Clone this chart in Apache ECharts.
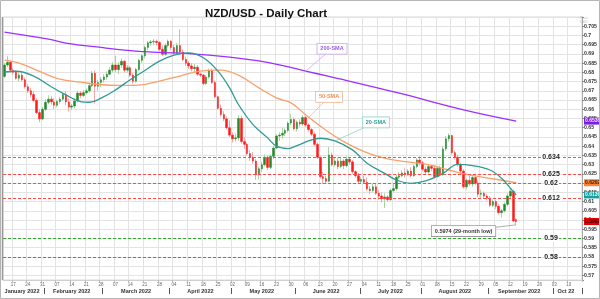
<!DOCTYPE html>
<html><head><meta charset="utf-8">
<script src="https://cdn.jsdelivr.net/npm/echarts@6.0.0/dist/echarts.min.js"></script>
<style>html,body{margin:0;padding:0;background:#fff;overflow:hidden}#chart{width:600px;height:299px}</style>
</head><body><div id="chart"></div>
<script>
// ---------- data ----------
const startDay = '2022-01-12';
const endDay = '2022-10-14';
const monthNames = {'2022-01':'January 2022','2022-02':'February 2022','2022-03':'March 2022','2022-04':'April 2022','2022-05':'May 2022','2022-06':'June 2022','2022-07':'July 2022','2022-08':'August 2022','2022-09':'September 2022','2022-10':'Oct 22'};

const opens = [.6778,.6840,.6855,.6812,.6800,.6768,.6785,.6760,.6722,.6700,
 .6680,.6648,.6582,.6548,.6600,.6638,.6655,.6640,.6622,.6642,
 .6655,.6680,.6640,.6612,.6618,.6645,.6688,.6675,.6690,.6700,
 .6728,.6795,.6725,.6745,.6760,.6775,.6790,.6812,.6840,.6815,
 .6840,.6860,.6812,.6825,.6785,.6752,.6815,.6865,.6890,.6935,
 .6960,.6965,.6968,.6962,.6925,.6898,.6945,.6968,.6935,.6905,
 .6945,.6910,.6870,.6850,.6835,.6820,.6828,.6790,.6785,.6740,
 .6775,.6808,.6745,.6668,.6605,.6572,.6548,.6500,.6460,.6440,
 .6445,.6550,.6425,.6410,.6360,.6340,.6320,.6245,.6278,.6300,
 .6340,.6285,.6345,.6390,.6455,.6460,.6470,.6485,.6525,.6545,
 .6495,.6530,.6520,.6555,.6515,.6490,.6465,.6410,.6340,.6235,
 .6225,.6210,.6352,.6300,.6320,.6290,.6320,.6295,.6330,.6315,
 .6262,.6240,.6210,.6220,.6205,.6168,.6160,.6180,.6145,.6130,
 .6115,.6125,.6110,.6160,.6170,.6232,.6240,.6255,.6245,.6265,
 .6240,.6290,.6325,.6310,.6275,.6260,.6290,.6280,.6235,.6280,
 .6245,.6385,.6440,.6458,.6365,.6340,.6300,.6265,.6180,.6215,
 .6195,.6230,.6200,.6140,.6145,.6130,.6118,.6080,.6100,.6075,
 .6040,.6050,.6085,.6130,.6155,.6002];
const closes = [.6840,.6855,.6812,.6800,.6768,.6785,.6760,.6722,.6700,.6680,
 .6648,.6582,.6548,.6600,.6638,.6655,.6640,.6622,.6642,.6655,
 .6680,.6640,.6612,.6618,.6645,.6688,.6675,.6690,.6700,.6728,
 .6795,.6725,.6745,.6760,.6775,.6790,.6812,.6840,.6815,.6840,
 .6860,.6812,.6825,.6785,.6752,.6815,.6865,.6890,.6935,.6960,
 .6965,.6968,.6962,.6925,.6898,.6945,.6968,.6935,.6905,.6945,
 .6910,.6870,.6850,.6835,.6820,.6828,.6790,.6785,.6740,.6775,
 .6808,.6745,.6668,.6605,.6572,.6548,.6500,.6460,.6440,.6445,
 .6550,.6425,.6410,.6360,.6340,.6320,.6245,.6278,.6300,.6340,
 .6285,.6345,.6390,.6455,.6460,.6470,.6485,.6525,.6545,.6495,
 .6530,.6520,.6555,.6515,.6490,.6465,.6410,.6340,.6235,.6225,
 .6210,.6352,.6300,.6320,.6290,.6320,.6295,.6330,.6315,.6262,
 .6240,.6210,.6220,.6205,.6168,.6160,.6180,.6145,.6130,.6115,
 .6125,.6110,.6160,.6170,.6232,.6240,.6255,.6245,.6265,.6240,
 .6290,.6325,.6310,.6275,.6260,.6290,.6280,.6235,.6280,.6245,
 .6385,.6440,.6458,.6365,.6340,.6300,.6265,.6180,.6215,.6195,
 .6230,.6200,.6140,.6145,.6130,.6118,.6080,.6100,.6075,.6040,
 .6050,.6085,.6130,.6155,.5995,.5992];
const lows = [.6770,.6830,.6800,.6788,.6760,.6752,.6752,.6712,.6688,.6665,
 .6640,.6575,.6530,.6540,.6590,.6628,.6625,.6600,.6612,.6630,
 .6648,.6622,.6588,.6595,.6605,.6638,.6660,.6665,.6680,.6690,
 .6720,.6630,.6700,.6720,.6745,.6760,.6785,.6800,.6800,.6790,
 .6825,.6800,.6798,.6775,.6740,.6745,.6808,.6850,.6875,.6920,
 .6945,.6950,.6945,.6915,.6890,.6890,.6935,.6920,.6895,.6900,
 .6900,.6860,.6835,.6820,.6805,.6800,.6780,.6775,.6730,.6732,
 .6765,.6738,.6660,.6598,.6560,.6535,.6490,.6450,.6420,.6425,
 .6430,.6415,.6385,.6350,.6320,.6305,.6218,.6220,.6260,.6290,
 .6270,.6275,.6330,.6385,.6430,.6440,.6455,.6475,.6515,.6485,
 .6480,.6505,.6510,.6505,.6478,.6455,.6400,.6330,.6225,.6195,
 .6197,.6205,.6290,.6290,.6275,.6280,.6275,.6285,.6300,.6250,
 .6228,.6200,.6195,.6195,.6160,.6140,.6150,.6135,.6110,.6095,
 .6065,.6100,.6105,.6150,.6160,.6220,.6230,.6230,.6240,.6230,
 .6235,.6280,.6295,.6265,.6245,.6250,.6265,.6225,.6230,.6235,
 .6240,.6375,.6425,.6355,.6328,.6290,.6250,.6170,.6165,.6185,
 .6180,.6190,.6125,.6120,.6118,.6105,.6070,.6070,.6060,.6030,
 .6015,.6040,.6075,.6120,.5990,.5974];
const highs = [.6852,.6888,.6862,.6825,.6812,.6800,.6800,.6772,.6738,.6715,
 .6700,.6660,.6600,.6612,.6655,.6675,.6672,.6660,.6652,.6668,
 .6690,.6700,.6660,.6630,.6660,.6700,.6698,.6705,.6712,.6740,
 .6808,.6810,.6760,.6775,.6790,.6805,.6828,.6855,.6890,.6855,
 .6875,.6868,.6840,.6835,.6795,.6825,.6875,.6900,.6945,.6970,
 .6975,.6980,.6978,.6970,.6945,.6958,.6978,.6975,.6950,.6960,
 .7033,.6925,.6885,.6860,.6850,.6845,.6840,.6800,.6792,.6785,
 .6820,.6820,.6755,.6675,.6625,.6590,.6560,.6540,.6475,.6468,
 .6568,.6565,.6448,.6420,.6378,.6368,.6330,.6290,.6315,.6355,
 .6350,.6355,.6400,.6465,.6475,.6500,.6495,.6535,.6575,.6555,
 .6540,.6545,.6568,.6565,.6525,.6500,.6475,.6420,.6345,.6260,
 .6240,.6395,.6365,.6335,.6340,.6335,.6330,.6345,.6340,.6325,
 .6270,.6255,.6232,.6240,.6230,.6185,.6200,.6195,.6160,.6150,
 .6145,.6135,.6170,.6200,.6245,.6260,.6270,.6280,.6275,.6285,
 .6300,.6335,.6345,.6320,.6290,.6300,.6300,.6295,.6290,.6295,
 .6400,.6455,.6470,.6462,.6375,.6355,.6310,.6275,.6225,.6240,
 .6240,.6250,.6215,.6165,.6155,.6140,.6130,.6110,.6110,.6085,
 .6060,.6095,.6145,.6170,.6165,.6010];

// moving averages: [trading-day index, value]
const sma20 = [[0,.6802],[4,.6806],[10,.6780],[16,.6722],[21,.6678],[26,.6642],[29,.6638],[33,.6660],[38,.6705],[43,.6760],[48,.6810],[53,.6861],[58,.6893],[63,.6906],[68,.6879],[73,.6807],[77,.6716],[80,.6626],[85,.6517],[90,.6445],[93,.6400],[97,.6387],[100,.6403],[105,.6434],[108,.6443],[113,.6429],[119,.6380],[124,.6308],[130,.6253],[134,.6217],[139,.6199],[144,.6212],[150,.6253],[155,.6302],[160,.6295],[166,.6271],[170,.6226],[174,.6154],[175,.6136]];
const sma50 = [[0,.6866],[5,.6850],[12,.6805],[19,.6763],[26,.6747],[33,.6733],[39,.6729],[46,.6731],[53,.6753],[60,.6780],[67,.6807],[74,.6812],[80,.6785],[87,.6716],[93,.6662],[98,.6635],[103,.6570],[109,.6497],[116,.6425],[123,.6371],[130,.6335],[137,.6316],[145,.6300],[152,.6271],[159,.6244],[166,.6226],[175,.6202]];
const sma200 = [[0,.7018],[16,.6977],[21,.6959],[33,.6935],[43,.6918],[53,.6908],[63,.6902],[77,.6883],[87,.6862],[94,.6841],[103,.6807],[111,.6778],[135,.6687],[157,.6597],[175,.6536]];

const resistanceLevels = [0.634, 0.625, 0.62, 0.612];
const supportLevels = [0.59, 0.58];

const notes = [
  {text:'200-SMA', at:[112, 0.6928], to:[103, 0.6807], color:'#9b59e8', border:'#c8a6f2'},
  {text:'50-SMA', at:[111, 0.6667], to:[104, 0.6555], color:'#f28a4a', border:'#f7b890'},
  {text:'20-SMA', at:[127, 0.6529], to:[113, 0.6429], color:'#2a9d96', border:'#94d0cb'},
  {text:'0.5974 (29-month low)', at:[157, 0.5940], to:[175, 0.5974], color:'#333333', border:'#9a9a9a'}
];

// ---------- categories (weekdays) ----------
const dates = [];
for (let d = new Date(startDay + 'T00:00:00Z'); d <= new Date(endDay + 'T00:00:00Z'); d.setUTCDate(d.getUTCDate() + 1)) {
  const wd = d.getUTCDay();
  if (wd !== 0 && wd !== 6) dates.push(d.toISOString().slice(0, 10));
}
const isMonday = s => new Date(s + 'T00:00:00Z').getUTCDay() === 1;
const monthStart = new Set(), monthMid = new Set();
{
  let s = 0;
  for (let i = 1; i <= dates.length; i++) {
    if (i === dates.length || dates[i].slice(0, 7) !== dates[i - 1].slice(0, 7)) {
      const n = i - s;
      monthMid.add(s + Math.floor((n - 1) / 2));
      if (s > 0) monthStart.add(s);
      s = i;
    }
  }
}

const wickData = opens.map((o, i) => [o, closes[i], lows[i], highs[i]]);
const bodyData = opens.map((o, i) => [o, closes[i], Math.min(o, closes[i]), Math.max(o, closes[i])]);

const GREEN = '#22882a', RED = '#ff1a1a';
const chart = echarts.init(document.getElementById('chart'), null, {renderer: 'canvas'});
const FONT = 'Liberation Sans, Arial, sans-serif';

const levelLines = resistanceLevels.map(v => ({yAxis: v, lineStyle: {color: '#ff4a4a'}}))
  .concat(supportLevels.map(v => ({yAxis: v, lineStyle: {color: '#2ea82e'}})));

const yLabel = v => {
  const k = Math.round(v * 1000);
  if (Math.abs(v * 1000 - k) > 1e-6 || k % 5 !== 0 || k >= 710) return '';
  return String(k / 1000);
};

chart.setOption({
  animation: false,
  title: {text: 'NZD/USD - Daily Chart', left: 261, top: 3, textAlign: 'center',
    textStyle: {fontFamily: FONT, fontSize: 11.5, fontWeight: 'bold', color: '#111'}},
  grid: {left: 3, right: 17, top: 17, bottom: 19, show: true, borderColor: '#d8d8d8', borderWidth: 1},
  xAxis: [{
    type: 'category', data: dates, boundaryGap: true, position: 'bottom',
    axisLine: {show: true, lineStyle: {color: '#cfcfcf'}},
    axisTick: {show: true, length: 2, interval: (i, v) => isMonday(v), lineStyle: {color: '#bbb'}},
    axisLabel: {interval: (i, v) => isMonday(v), formatter: v => v.slice(8, 10), fontSize: 4.5, color: '#666', margin: 2, fontFamily: FONT},
    splitLine: {show: true, interval: (i, v) => isMonday(v), lineStyle: {color: '#e3e3e3', width: 1}}
  }, {
    type: 'category', data: dates, boundaryGap: true, position: 'bottom', offset: 8,
    axisLine: {show: false},
    axisTick: {show: true, length: 6, interval: (i) => monthStart.has(i), lineStyle: {color: '#555'}},
    axisLabel: {interval: (i) => monthMid.has(i), formatter: v => monthNames[v.slice(0, 7)], fontSize: 5.5, fontWeight: 'bold', color: '#333', margin: 0, fontFamily: FONT},
    splitLine: {show: false}
  }],
  yAxis: {
    type: 'value', position: 'right', min: 0.5675, max: 0.7100, splitNumber: 28,
    name: 'Price\nUSD', nameLocation: 'end', nameGap: -9,
    nameTextStyle: {fontSize: 3.5, color: '#bbb', align: 'left', fontFamily: FONT, padding: [0, 0, 0, -2]},
    axisLine: {show: true, lineStyle: {color: '#aaa'}},
    axisTick: {show: true, length: 2, lineStyle: {color: '#888'}},
    axisLabel: {formatter: yLabel, fontSize: 5.2, fontWeight: 'bold', color: '#333', margin: 2, fontFamily: FONT},
    splitLine: {show: true, lineStyle: {color: '#e3e3e3'}}
  },
  series: [{
    name: 'wicks', type: 'candlestick', data: wickData, barWidth: 1, z: 2,
    itemStyle: {color: '#a6d6a6', color0: '#f7a8a8', borderColor: '#a6d6a6', borderColor0: '#f7a8a8', borderWidth: 1}
  }, {
    name: 'bodies', type: 'candlestick', data: bodyData, barWidth: 2, z: 3,
    itemStyle: {color: GREEN, color0: RED, borderColor: GREEN, borderColor0: RED, borderWidth: 0.5},
    markLine: {
      silent: true, symbol: 'none', animation: false, precision: 4,
      lineStyle: {type: [3, 2], width: 1},
      label: {position: 'end', distance: -31, align: 'center', formatter: p => String(+(+p.value).toFixed(4)),
        fontFamily: FONT, fontSize: 7, fontWeight: 'bold', color: '#222', backgroundColor: '#fff', padding: [0, 1]},
      data: levelLines
    }
  }, {
    name: '200-SMA', type: 'line', data: sma200, smooth: 0.4, showSymbol: false, z: 4,
    lineStyle: {color: '#9b30ff', width: 1.3}
  }, {
    name: '50-SMA', type: 'line', data: sma50, smooth: 0.4, showSymbol: false, z: 4,
    lineStyle: {color: '#f9a06a', width: 1.3}
  }, {
    name: '20-SMA', type: 'line', data: sma20, smooth: 0.4, showSymbol: false, z: 4,
    lineStyle: {color: '#2f9a96', width: 1.3}
  }]
});

// ---------- annotations ----------
const px = (i, v) => chart.convertToPixel({xAxisIndex: 0, yAxisIndex: 0}, [i, v]);
const g = [];
notes.forEach(n => {
  const a = px(n.at[0], n.at[1]), b = px(n.to[0], n.to[1]);
  g.push({type: 'line', z: 10, shape: {x1: a[0], y1: a[1], x2: b[0], y2: b[1]}, style: {stroke: n.border, lineWidth: 0.8}});
  g.push({type: 'text', z: 11, x: a[0], y: a[1], style: {text: n.text, fill: n.color, font: 'bold 5.5px ' + FONT,
    align: 'center', verticalAlign: 'middle', backgroundColor: '#fff', borderColor: n.border, borderWidth: 0.8, padding: [2, 3]}});
});
// last-value boxes on the price axis
const gridRight = 600 - 17;
const lastBoxes = [
  {v: sma200[sma200.length - 1][1], bg: '#7a1fe0', fg: '#f3e8ff'},
  {v: sma50[sma50.length - 1][1], bg: '#f5863d', fg: '#3a1a00'},
  {v: sma20[sma20.length - 1][1], bg: '#1c9e9e', fg: '#e8ffff'},
  {v: closes[closes.length - 1], bg: '#e80000', fg: '#3a0000'}
];
lastBoxes.forEach(bx => {
  const y = px(0, bx.v)[1];
  g.push({type: 'text', z: 12, x: gridRight + 1, y: y, style: {text: bx.v.toFixed(4), fill: bx.fg, font: 'bold 5px ' + FONT,
    align: 'left', verticalAlign: 'middle', backgroundColor: bx.bg, padding: [1, 1]}});
});
g.push({type: 'rect', z: 20, shape: {x: 0.5, y: 0.5, width: 599, height: 298}, style: {fill: 'none', stroke: '#b5b5b5', lineWidth: 1}});
g.push({type: 'line', z: 20, shape: {x1: 2.5, y1: 17, x2: 2.5, y2: 280}, style: {stroke: '#999', lineWidth: 1.5}});
chart.setOption({graphic: g});
</script></body></html>
